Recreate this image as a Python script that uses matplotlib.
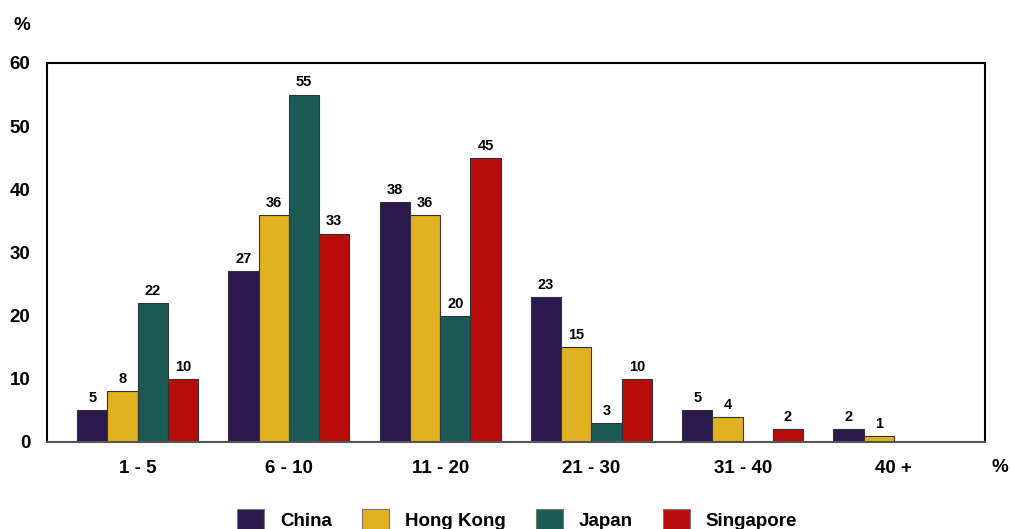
import numpy as np
import matplotlib
matplotlib.use("Agg")
import matplotlib.pyplot as plt
from matplotlib.patches import Patch

plt.rcParams.update({
    "font.family": "sans-serif",
    "font.sans-serif": ["Liberation Sans", "DejaVu Sans"],
    "font.weight": "bold",
})

categories = ["1 - 5", "6 - 10", "11 - 20", "21 - 30", "31 - 40", "40 +"]
series_names = ["China", "Hong Kong", "Japan", "Singapore"]
china = [5, 27, 38, 23, 5, 2]
hong_kong = [8, 36, 36, 15, 4, 1]
japan = [22, 55, 20, 3, 0, 0]
singapore = [10, 33, 45, 10, 2, 0]
yticks = [0, 10, 20, 30, 40, 50, 60]

colors = ["#2a1a4e", "#e2b122", "#1b5a55", "#b80d0a"]
all_series = [china, hong_kong, japan, singapore]

fig = plt.figure(figsize=(10.12, 5.29), dpi=100)
ax = fig.add_axes([0.0464, 0.1645, 0.9266, 0.7165])

x = np.arange(len(categories))
w = 0.2
offsets = [-1.5 * w, -0.5 * w, 0.5 * w, 1.5 * w]

for vals, col, off in zip(all_series, colors, offsets):
    bars = ax.bar(x + off, vals, width=w, color=col, edgecolor="#333333", linewidth=0.8)
    for b, v in zip(bars, vals):
        if v == 0:
            continue
        ax.text(b.get_x() + b.get_width() / 2, v + 0.8, str(v),
                ha="center", va="bottom", fontsize=10.5, fontweight="bold")

ax.set_xlim(-0.6, 5.6)
ax.set_ylim(0, 60)
ax.set_yticks(yticks)
ax.set_xticks(x)
ax.set_xticklabels(categories)
ax.tick_params(axis="both", length=0, labelsize=13.5)
ax.tick_params(axis="y", pad=12)
ax.tick_params(axis="x", pad=13)
for lab in ax.get_xticklabels() + ax.get_yticklabels():
    lab.set_fontweight("bold")

for s in ["top", "left", "right"]:
    ax.spines[s].set_linewidth(1.5)
    ax.spines[s].set_color("black")
ax.spines["bottom"].set_linewidth(1.5)
ax.spines["bottom"].set_color("#555555")

fig.text(22 / 1012, 1 - 25 / 529, "%", ha="center", va="center", fontsize=13.5, fontweight="bold")
fig.text(1000 / 1012, 1 - 467 / 529, "%", ha="center", va="center", fontsize=13.5, fontweight="bold")

handles = [Patch(facecolor=c, edgecolor="#777777", linewidth=0.8) for c in colors]
fig.legend(handles, series_names, loc="center", bbox_to_anchor=(0.511, 1 - 520 / 529),
           ncol=4, frameon=False, handlelength=1.44, handleheight=1.44,
           columnspacing=1.6, handletextpad=0.85, borderpad=0,
           prop={"weight": "bold", "size": 13.5})

fig.savefig("out.png", dpi=100)
